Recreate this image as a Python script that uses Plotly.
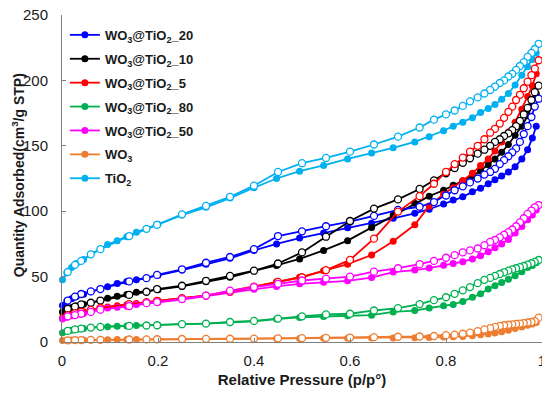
import plotly.graph_objects as go

# Relative pressure grids (adsorption ascending, desorption descending)
P_ADS = [0.001, 0.01, 0.02, 0.03, 0.045, 0.06, 0.08, 0.095, 0.115, 0.135, 0.155, 0.2, 0.25, 0.3, 0.35, 0.4,
         0.447, 0.495, 0.545, 0.595, 0.645, 0.69, 0.735, 0.765, 0.795, 0.815, 0.835, 0.855, 0.872, 0.888,
         0.902, 0.916, 0.93, 0.944, 0.958, 0.97, 0.98, 0.988]
P_DES = [0.993, 0.985, 0.978, 0.97, 0.962, 0.954, 0.946, 0.938, 0.93, 0.921, 0.912, 0.902, 0.892, 0.88,
         0.866, 0.85, 0.835, 0.818, 0.80, 0.775, 0.745, 0.70, 0.65, 0.60, 0.55, 0.50, 0.45, 0.40, 0.35,
         0.30, 0.25, 0.198, 0.176, 0.14, 0.08, 0.06, 0.04, 0.027, 0.012]

# Quantity adsorbed (cm3/g STP)
Q20_ADS = [28, 31, 33, 34.7, 36.5, 38.5, 40.5, 42.3, 44.8, 46.2, 47.6, 51, 55, 59.5, 64, 70, 75, 79.5, 83.3,
           87.4, 90.8, 94.6, 98.4, 101.5, 105.5, 108.5, 111, 114.8, 117.5, 121, 124, 127, 130, 134, 140,
           147, 156, 165]
Q20_DES = [186, 180, 172, 165, 159, 153, 148, 145, 142, 139, 136, 132.4, 130, 128, 125, 122, 119, 116, 112,
           107, 103.4, 101, 96.4, 92, 88.5, 84.6, 81, 71, 65, 60.6, 55.6, 51.3, 48.8, 46.3, 40.5, 38.7,
           36.7, 34.7, 31.7]

Q10_ADS = [23, 25, 26.3, 27.5, 28.8, 30, 31.7, 33.5, 35, 36.3, 38, 40, 42.5, 46, 49.5, 54.4, 58.5, 63.5, 70,
           77.5, 87.5, 97, 106, 111.5, 116, 119.8, 123, 127, 131, 135.5, 140, 145, 151, 158, 165, 173, 181,
           190]
Q10_DES = [196, 191, 185, 179, 174, 169, 165, 162, 159.5, 157.5, 155, 153, 150, 147, 144, 140.5, 137, 133,
           129, 123.5, 117, 109, 102, 92.5, 80.5, 68.5, 60, 54.5, 50.5, 46.8, 43, 40.5, 38.4, 36, 31.7, 30,
           28.8, 27, 25.4]

Q5_ADS = [18.5, 20, 21, 22, 23.2, 24.5, 25.8, 26.8, 27.8, 28.5, 29.5, 31.5, 33.5, 35.5, 38.2, 42.3, 46, 49.5,
          54.4, 59.5, 66.5, 77, 89.6, 104, 113, 118, 123.5, 129, 134.9, 140, 146, 153, 160.6, 168, 178,
          187.7, 196, 205]
Q5_DES = [215.4, 209, 204, 199, 194, 189, 185, 180, 176, 171.4, 167, 163, 160, 155, 150, 145.5, 141, 136,
          130, 121, 111.5, 99.7, 79, 62.8, 55, 49.5, 46, 42.3, 38.5, 35.5, 33.5, 31.5, 30.5, 29, 26, 24.5,
          23, 22, 20.5]

Q80_ADS = [7, 8.2, 9, 9.6, 10.3, 11, 11.5, 11.7, 12, 12.3, 12.6, 12.8, 13.6, 14.1, 15, 15.8, 17.5, 18.8,
           19.5, 20, 20.5, 23, 24, 26, 27.8, 28.7, 31, 34.2, 36.8, 40.5, 43, 45.5, 48, 50.6, 53.8, 56.9,
           58.5, 60.5]
Q80_DES = [62.7, 61.3, 60.2, 59.2, 58.1, 57.2, 56.4, 55.5, 54.6, 53.3, 52, 50.6, 49, 47.5, 45, 42, 39.5,
           36.8, 34.2, 32, 29, 25.9, 24.1, 21.6, 21.1, 19.6, 17.9, 16.1, 15.3, 14.1, 13.6, 12.8, 12.6,
           12.3, 11.6, 11, 10.3, 9.6, 8.5]

Q50_ADS = [17.5, 19, 20, 20.8, 21.8, 23, 24.5, 25.9, 26.6, 27.4, 28.7, 30.4, 32.5, 35, 37.8, 40.3, 42.5,
           44.5, 45.6, 46.8, 49.3, 53.5, 55, 56.5, 58.6, 60, 61.4, 63.5, 66, 69, 72, 75, 78.3, 83.3, 88.3,
           93.5, 97, 101]
Q50_DES = [104.7, 103, 100.5, 98, 94.6, 91.5, 88.5, 86, 84, 82, 80, 78, 76.5, 74, 71.5, 70, 68.5, 66.4,
           64.4, 62, 59.5, 56.4, 53.8, 50, 48.5, 47, 44.5, 42, 39.3, 35.5, 32.8, 30.5, 29.7, 27.5, 24.7,
           23, 21.6, 20.6, 19.6]

QWO3_ADS = [1.2, 1.4, 1.5, 1.5, 1.6, 1.7, 1.8, 1.8, 1.9, 2.0, 2.0, 2.1, 2.2, 2.3, 2.4, 2.5, 2.6, 2.7, 2.8,
            2.9, 3.0, 3.1, 3.3, 3.5, 3.8, 4.0, 4.3, 4.8, 5.5, 6.2, 6.8, 7.8, 9, 10.3, 11.5, 12.8, 13.8, 15]
QWO3_DES = [18.6, 16, 15.3, 14.9, 14.5, 14.1, 13.8, 13.5, 13.2, 12.8, 12.3, 11.6, 10.6, 9.6, 8.3, 7.2, 6.3,
            5.6, 5.2, 4.6, 4.2, 4, 3.7, 3.4, 3.2, 3, 2.8, 2.6, 2.5, 2.4, 2.3, 2.1, 2.0, 1.9, 1.7, 1.6, 1.5,
            1.4, 1.3]

QTIO2_ADS = [47.5, 53, 57, 60, 63, 67, 71, 74.5, 77.5, 80.5, 84, 90, 97, 103, 110, 118, 125, 130.6, 135,
             140, 144.4, 148.5, 153, 157, 161.5, 165, 168, 171.5, 175.5, 178.5, 181.5, 185.5, 190, 196.5,
             204, 210.5, 216, 221]
QTIO2_DES = [228, 224, 221, 218, 214, 211, 208, 205, 203, 200, 198, 195.3, 192.7, 190, 187, 184, 180.5, 177,
             174, 170, 164, 157, 151, 145.5, 140.7, 136.7, 130, 119.5, 111, 104, 97.6, 89.6, 86.5, 81, 71,
             67, 62, 59, 53.5]

SERIES_NAMES = ["WO<sub>3</sub>@TiO<sub>2</sub>_20", "WO<sub>3</sub>@TiO<sub>2</sub>_10",
                "WO<sub>3</sub>@TiO<sub>2</sub>_5", "WO<sub>3</sub>@TiO<sub>2</sub>_80",
                "WO<sub>3</sub>@TiO<sub>2</sub>_50", "WO<sub>3</sub>", "TiO<sub>2</sub>"]
SERIES_COLORS = ["#0000FF", "#000000", "#FF0000", "#00B050", "#FF00FF", "#ED7D31", "#00B0F0"]
ADS = [Q20_ADS, Q10_ADS, Q5_ADS, Q80_ADS, Q50_ADS, QWO3_ADS, QTIO2_ADS]
DES = [Q20_DES, Q10_DES, Q5_DES, Q80_DES, Q50_DES, QWO3_DES, QTIO2_DES]

X_DTICK = 0.2
Y_TICKS = [0, 50, 100, 150, 200, 250]
Y_TITLE = "Quantity Adsorbed(cm<sup>3</sup>/g STP)"
X_TITLE = "Relative Pressure (p/p°)"

fig = go.Figure()
for name, col, q in zip(SERIES_NAMES, SERIES_COLORS, ADS):
    fig.add_trace(go.Scatter(
        x=P_ADS, y=q, name=name, mode="lines+markers", legendgroup=name,
        line=dict(color=col, width=1.8),
        marker=dict(symbol="circle", size=7, color=col, line=dict(width=0)),
        cliponaxis=False))
for name, col, q in zip(SERIES_NAMES, SERIES_COLORS, DES):
    fig.add_trace(go.Scatter(
        x=P_DES, y=q, name=name, mode="lines+markers", legendgroup=name, showlegend=False,
        line=dict(color=col, width=1.8),
        marker=dict(symbol="circle", size=7, color="white", line=dict(width=1.3, color=col)),
        cliponaxis=False))

axis_font = dict(family="Arial, Liberation Sans", size=15, color="#1a1a1a")
title_font = dict(family="Arial, Liberation Sans", size=15, color="#1a1a1a", weight="bold")
ytitle_font = dict(family="Arial, Liberation Sans", size=14, color="#1a1a1a", weight="bold")
# page body has an 8px default margin: figure sized to fit the 550x394 window
fig.update_layout(
    width=542, height=386,
    margin=dict(l=54, r=8, t=7, b=52),
    paper_bgcolor="white", plot_bgcolor="white",
    font=dict(family="Arial, Liberation Sans", color="#1a1a1a"),
    legend=dict(x=0.006, y=0.985, xanchor="left", yanchor="top", bgcolor="rgba(255,255,255,0)",
                font=dict(family="Arial, Liberation Sans", size=13, color="#1a1a1a", weight="bold"),
                tracegroupgap=4),
    xaxis=dict(range=[0, 1], tick0=0, dtick=X_DTICK, ticks="inside", ticklen=4, automargin=False,
               tickcolor="#808080", showline=True, linecolor="#808080", linewidth=1, showgrid=False,
               zeroline=False, tickfont=axis_font, ticklabelstandoff=5, ticklabeloverflow="allow",
               title=dict(text=X_TITLE, standoff=6, font=title_font)),
    yaxis=dict(range=[0, 250], tickvals=Y_TICKS, ticks="inside", ticklen=4, tickcolor="#808080",
               showline=True, linecolor="#808080", linewidth=1, showgrid=False, zeroline=False,
               tickfont=axis_font, ticklabelstandoff=10, automargin=False, ticklabeloverflow="allow"),
    annotations=[dict(text=Y_TITLE, textangle=-90, xref="paper", yref="paper", x=-0.1125, y=0.51,
                      xanchor="left", yanchor="middle", showarrow=False, font=ytitle_font, borderpad=0)],
)
fig.write_html("out.html")
